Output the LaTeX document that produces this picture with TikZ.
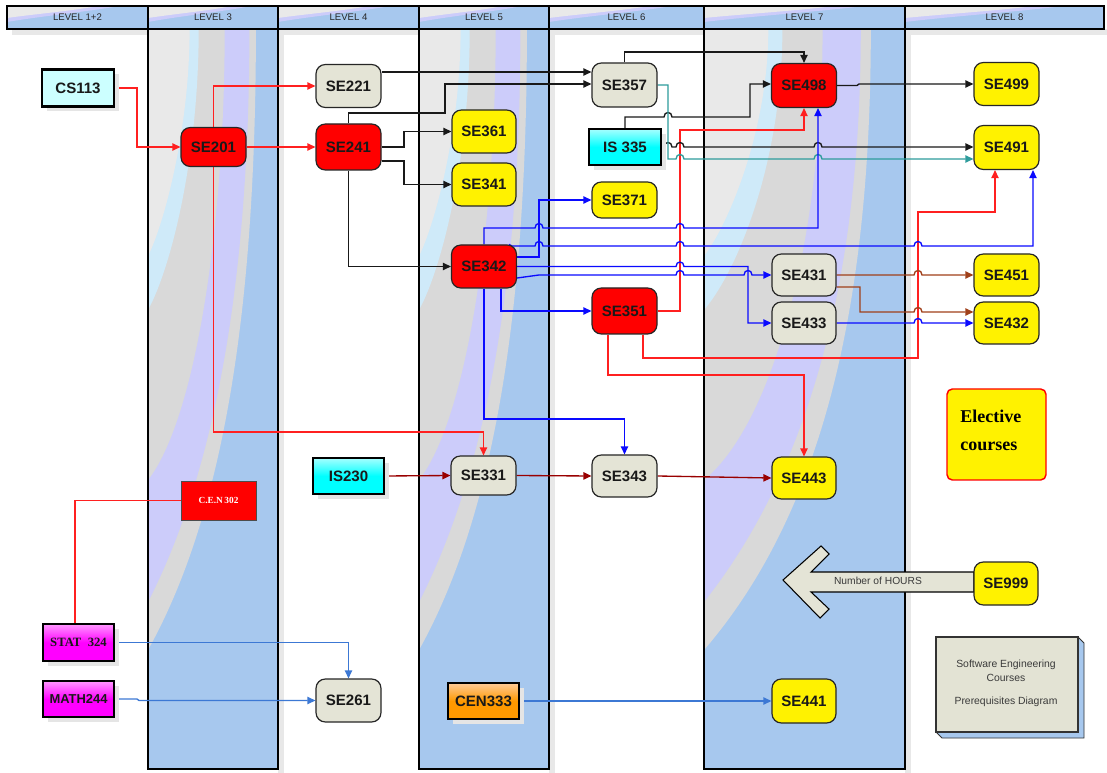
\documentclass[tikz,border=0pt]{standalone}
\usepackage{fontspec}
\setmainfont{Liberation Serif}
\setsansfont{Liberation Sans}
\usetikzlibrary{arrows.meta,shadows}
\definecolor{colblue}{HTML}{A7C8EE}
\definecolor{collav}{HTML}{CCCCFA}
\definecolor{colgray}{HTML}{D9D9D9}
\definecolor{collgray}{HTML}{E9E9E9}
\definecolor{collblue}{HTML}{CFEAF9}
\definecolor{nodegray}{HTML}{E4E4D6}
\definecolor{cspale}{HTML}{CCFFFF}
\definecolor{cred}{HTML}{FF2020}
\definecolor{cblu}{HTML}{0A0AFF}
\definecolor{cteal}{HTML}{2E9C9C}
\definecolor{cbrn}{HTML}{A0401A}
\definecolor{cdred}{HTML}{990000}
\definecolor{csteel}{HTML}{3C78D4}
\definecolor{legfill}{HTML}{E3E3D4}
\definecolor{txtgray}{HTML}{3A3A3A}
\definecolor{magl}{HTML}{FF99FF}
\definecolor{orgl}{HTML}{FFCC99}
\definecolor{orgd}{HTML}{FF9900}
\pgfdeclarelayer{back}
\pgfdeclarelayer{lines}
\pgfsetlayers{back,lines,main}
\newcommand\hopat[2]{-- ({#1-4},#2) .. controls ({#1-4},{#2-6}) and ({#1+4},{#2-6}) .. ({#1+4},#2)}
\newcommand\lvcol[2]{%
 \begin{scope}
 \clip (#1,29) rectangle ({#1+#2},769);
 \fill[colblue] (#1,29) rectangle ({#1+#2},769);
 \begin{scope}[shift={(#1,0)},xscale=#2]
 \fill[colgray] (0,29) -- (0.83,29) .. controls (0.83,300) and (0.6,510) .. (0,650) -- cycle;
 \fill[collav] (0,29) -- (0.78,29) .. controls (0.78,280) and (0.52,470) .. (0,602) -- cycle;
 \fill[colgray] (0,29) -- (0.59,29) .. controls (0.59,230) and (0.36,420) .. (0,480) -- cycle;
 \fill[collblue] (0,29) -- (0.39,29) .. controls (0.39,160) and (0.17,270) .. (0,310) -- cycle;
 \fill[collgray] (0,29) -- (0.32,29) .. controls (0.32,130) and (0.12,225) .. (0,256) -- cycle;
 \end{scope}
 \end{scope}
 \fill[black!9] ({#1+#2},35) rectangle ({#1+#2+6},773);
 \draw[line width=1.9pt] (#1,29) rectangle ({#1+#2},769);
}
\newcommand\hdr[4]{%
 \fill[colblue] (#1,6) rectangle (#2,29);
 \fill[collav] (#1,6) -- ({#1+0.8*(#2-#1)},6) .. controls ({#1+0.55*(#2-#1)},12) and ({#1+0.25*(#2-#1)},16) .. (#1,22) -- cycle;
 \fill[collgray] (#1,6) -- ({#1+0.65*(#2-#1)},6) .. controls ({#1+0.45*(#2-#1)},11) and ({#1+0.2*(#2-#1)},14) .. (#1,18) -- cycle;
 \draw[line width=1.9pt] (#1,6) rectangle (#2,29);
 \node[hdrtxt] (#4) at ({(#1+#2)/2},17.5) {#3};
}
\begin{document}
\begin{tikzpicture}[x=0.75pt,y=-0.75pt,
 sz/.style 2 args={minimum width=#1*0.75pt, minimum height=#2*0.75pt},
 hdrtxt/.style={font=\sffamily\fontsize{7.2}{8}\selectfont, text=black!85, inner sep=0pt},
 rnd/.style={rounded corners=7pt, draw=black!85, line width=0.9pt, inner sep=0pt,
   font=\sffamily\bfseries\fontsize{11.3}{13}\selectfont, text=black!90},
 gnode/.style={rnd, fill=nodegray},
 rnode/.style={rnd, fill=red},
 ynode/.style={rnd, fill=yellow},
 sq/.style={draw=black, line width=1.8pt, inner sep=0pt,
   font=\sffamily\bfseries\fontsize{11.3}{13}\selectfont, text=black!90,
   drop shadow={shadow xshift=3.5pt, shadow yshift=-3.5pt, fill=black!10, opacity=1}},
 con/.style={line width=1pt, -{Triangle[length=6pt,width=5.5pt]}},
 legtxt/.style={font=\sffamily\fontsize{7.8}{9}\selectfont, text=txtgray, inner sep=0pt}
]
\useasboundingbox (0,0) rectangle (1107,773);
\begin{pgfonlayer}{back}
\fill[white] (0,0) rectangle (1107,773);
\fill[black!9] (12,29) rectangle (1107,35);
\hdr{7}{148}{LEVEL 1+2}{hA}
\hdr{148}{278}{LEVEL 3}{hB}
\hdr{278}{419}{LEVEL 4}{hC}
\hdr{419}{549}{LEVEL 5}{hD}
\hdr{549}{704}{LEVEL 6}{hE}
\hdr{704}{905}{LEVEL 7}{hF}
\hdr{905}{1104}{LEVEL 8}{hG}
\lvcol{148}{130}
\lvcol{419}{130}
\lvcol{704}{201}
\end{pgfonlayer}

% big arrow and legend
\draw[fill=nodegray, line width=0.8pt] (783,580) -- (821,546) -- (829,554) -- (811,572) -- (974,572) -- (974,592) -- (811,592) -- (829,609) -- (820,618) -- cycle;
\node[legtxt, font=\sffamily\fontsize{7.7}{9}\selectfont] (hours) at (878,581) {Number of HOURS};
\fill[colblue, draw=black!80, line width=0.7pt] (1078,637) -- (1084,643) -- (1084,738) -- (942,738) -- (936,732) -- (1078,732) -- cycle;
\node[draw=black!80, line width=0.9pt, fill=legfill, sz={142}{95}, inner sep=0pt] (legend) at (1007,684.5) {};
\node[legtxt] (leg1) at (1006,665) {Software Engineering};
\node[legtxt] (leg2) at (1006,677.5) {Courses};
\node[legtxt] (leg3) at (1006,702) {Prerequisites Diagram};
\node[draw=red, line width=1.1pt, fill=yellow, rounded corners=4pt, sz={99}{91}, inner sep=0pt] (elect) at (996.5,434.5) {};
\node[anchor=base west, inner sep=0pt, font=\bfseries\fontsize{13.5}{16}\selectfont] (electA) at (960,422.5) {Elective};
\node[anchor=base west, inner sep=0pt, font=\bfseries\fontsize{13.5}{16}\selectfont] (electB) at (960,451) {courses};

% nodes
\node[sq, sz={72}{37}, fill=cspale] (cs113) at (78,88) {CS113};
\node[rnode, sz={65}{39}] (se201) at (213.5,147) {SE201};
\node[gnode, sz={65}{43}] (se221) at (348.5,86) {SE221};
\node[rnode, sz={65}{46}] (se241) at (348.5,147) {SE241};
\node[ynode, sz={64}{43}] (se361) at (484,131.5) {SE361};
\node[ynode, sz={64}{43}] (se341) at (484,184.5) {SE341};
\node[rnode, sz={65}{43}] (se342) at (484,266.5) {SE342};
\node[gnode, sz={65}{44}] (se357) at (624.5,85) {SE357};
\node[sq, sz={72}{36}, top color=cyan!35!white, bottom color=cyan, middle color=cyan] (is335) at (625,147) {IS 335};
\node[ynode, sz={65}{36}] (se371) at (624.5,200) {SE371};
\node[rnode, sz={65}{46}] (se351) at (624.5,311) {SE351};
\node[rnode, sz={65}{44}] (se498) at (804,85.5) {SE498};
\node[ynode, sz={65}{43}] (se499) at (1006.5,84) {SE499};
\node[ynode, sz={65}{44}] (se491) at (1006.5,147.5) {SE491};
\node[gnode, sz={64}{42}] (se431) at (804,275) {SE431};
\node[gnode, sz={64}{42}] (se433) at (804,323) {SE433};
\node[ynode, sz={65}{42}] (se451) at (1006.5,275) {SE451};
\node[ynode, sz={65}{42}] (se432) at (1006.5,323) {SE432};
\node[sq, sz={71}{36}, top color=cyan!35!white, bottom color=cyan, middle color=cyan] (is230) at (348.5,476) {IS230};
\node[gnode, sz={65}{39}] (se331) at (483.5,475.5) {SE331};
\node[gnode, sz={65}{42}] (se343) at (624.5,476) {SE343};
\node[ynode, sz={64}{42}] (se443) at (804,478) {SE443};
\node[fill=red, draw=black!70, line width=0.6pt, sz={75}{39}, inner sep=0pt, font=\bfseries\fontsize{7}{8}\selectfont, text=white] (cen302) at (218.5,500.5) {C.E.N\,302};
\node[sq, sz={71}{37}, top color=magl, bottom color=magenta, middle color=magenta, font=\bfseries\fontsize{9.5}{11}\selectfont] (stat324) at (78.5,642.5) {STAT\ \ 324};
\node[sq, sz={71}{36}, top color=magl, bottom color=magenta, middle color=magenta, font=\sffamily\bfseries\fontsize{9.7}{11}\selectfont] (math244) at (78.5,699) {MATH244};
\node[gnode, sz={65}{43}] (se261) at (348.5,700.5) {SE261};
\node[sq, sz={71}{36}, top color=orgl, bottom color=orgd, middle color=orgd] (cen333) at (483.5,701) {CEN333};
\node[ynode, sz={64}{44}] (se441) at (804,701) {SE441};
\node[ynode, sz={64}{43}] (se999) at (1006,583.5) {SE999};

\begin{pgfonlayer}{lines}
% red
\draw[con,cred] (cs113.east) -- (137,88) |- (se201.west);
\draw[con,cred] (se201.north) |- (se221.west);
\draw[con,cred] (se201.east) -- (se241.west);
\draw[con,cred] (se201.south) -- (213.5,432) -| (se331.north);
\draw[con,cred] (se351.east) -- (680,311) -- (680,130) -| (se498.south);
\draw[con,cred] (se351.south -| 643,0) -- (643,358) -- (918,358) -- (918,212) -- (995,212) -- (se491.south -| 995,0);
\draw[con,cred] (se351.south -| 608,0) -- (608,375) -| (se443.north);
\draw[line width=1pt,cred] (cen302.west) -- (75,500.5) -- (stat324.north -| 75,0);
% black
\draw[con,black!90] (se221.east |- 0,72) -- (se357.west |- 0,72);
\draw[con,black!90] (se241.north) -- (348.5,113) -- (445,113) -- (445,84) -- (se357.west |- 0,84);
\draw[con,black!90] (se241.east) -- (404,147) |- (se361.west);
\draw[con,black!90] (se241.east |- 0,161) -- (404,161) |- (se341.west);
\draw[con,black!90] (se241.south) |- (se342.west);
\draw[con,black!90] (se357.north) -- (624.5,52) -| (se498.north);
\draw[con,black!90] (is335.north) -- (625,117) \hopat{668}{117} -- (750,117) -- (750,84) -- (se498.west |- 0,84);
\draw[con,black!90] (is335.east) \hopat{668}{147} \hopat{680}{147} \hopat{818}{147} -- (se491.west |- 0,147);
\draw[con,black!90] (se498.east) -- (857,85.5) -- (859,84) -- (se499.west);
% teal
\draw[con,cteal] (se357.east) -- (668,85) -- (668,159) \hopat{680}{159} \hopat{818}{159} -- (se491.west |- 0,159);
% blue
\draw[con,cblu] (se342.east |- 0,257) -- (539,257) |- (se371.west);
\draw[con,cblu] (se342.north) -- (484,228) \hopat{539}{228} \hopat{680}{228} -- (818,228) -- (se498.south -| 818,0);
\draw[con,cblu] (se342.north -| 509,0) -- (512,246) \hopat{539}{246} \hopat{680}{246} \hopat{918}{246} -- (1033,246) -- (se491.south -| 1033,0);
\draw[con,cblu] (se342.east) \hopat{680}{266.5} -- (748,266.5) |- (se433.west);
\draw[con,cblu] (se342.east |- 0,278) -- (539,275) \hopat{680}{275} \hopat{748}{275} -- (se431.west);
\draw[con,cblu] (se342.south -| 501,0) |- (se351.west);
\draw[con,cblu] (se342.south) -- (484,419) -| (se343.north);
\draw[con,cblu] (se433.east) \hopat{918}{323} -- (se432.west);
% brown
\draw[con,cbrn] (se431.east) \hopat{918}{275} -- (se451.west);
\draw[con,cbrn] (se431.east |- 0,287) -- (860,287) -- (860,312) \hopat{918}{312} -- (se432.west |- 0,312);
% dark red
\draw[con,cdred] (is230.east) -- (se331.west);
\draw[con,cdred] (se331.east) -- (se343.west);
\draw[con,cdred] (se343.east) -- (se443.west);
% steel blue
\draw[con,csteel] (stat324.east) -| (se261.north);
\draw[con,csteel] (math244.east) -- (137,699) -- (139,700.5) -- (se261.west);
\draw[con,csteel] (cen333.east) -- (se441.west);
\end{pgfonlayer}
\end{tikzpicture}
\end{document}
